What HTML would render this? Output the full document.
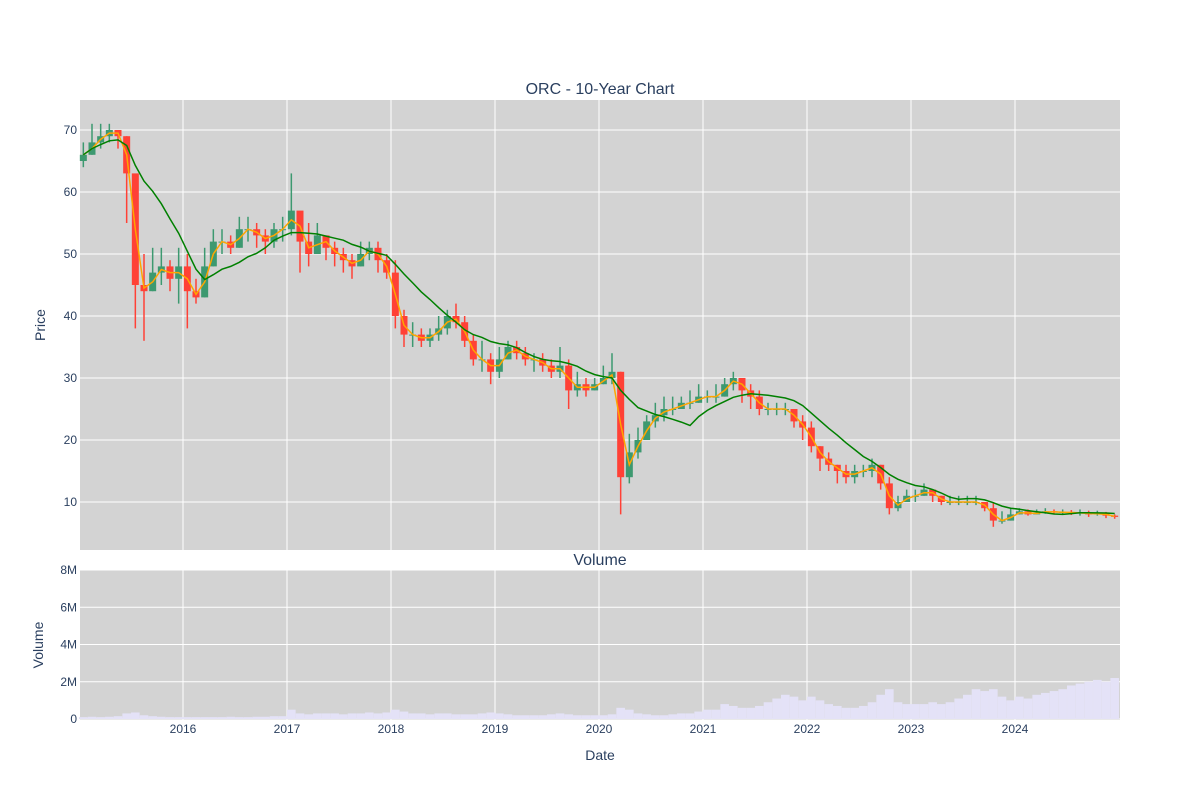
<!DOCTYPE html>
<html><head><meta charset="utf-8"><style>
body{margin:0;background:#fff;font-family:"Liberation Sans",sans-serif}
svg text{font-family:"Liberation Sans",sans-serif;fill:#2a3f5f}
</style></head><body>
<svg id="chart" width="1200" height="800" viewBox="0 0 1200 800" xmlns="http://www.w3.org/2000/svg">
<rect x="0" y="0" width="1200" height="800" fill="#fff"/>
<rect x="80" y="100" width="1040" height="450" fill="#d3d3d3"/>
<rect x="80" y="570" width="1040" height="150" fill="#d3d3d3"/>
<g id="grid"></g><g id="vol"></g><g id="candles"></g><g id="lines"></g><g id="axes"></g>
<text x="600" y="94" text-anchor="middle" font-size="16">ORC - 10-Year Chart</text>
<text x="600" y="565" text-anchor="middle" font-size="16">Volume</text>
<text transform="translate(45,325) rotate(-90)" text-anchor="middle" font-size="14">Price</text>
<text transform="translate(43,645) rotate(-90)" text-anchor="middle" font-size="14">Volume</text>
<text x="600" y="760" text-anchor="middle" font-size="14">Date</text>
</svg>
<script>
const closes=[66,68,69,70,69,63,45,44,47,48,46,48,
44,43,48,52,52,51,54,54,53,52,54,54,
57,52,50,53,51,50,49,48,50,51,49,47,
40,37,37,36,37,38,40,39,36,33,33,31,
33,35,34,33,33,32,31,32,28,29,28,29,
30,31,14,18,20,23,24,25,25,26,26,27,
27,27,29,30,28,27,25,25,25,25,23,22,
19,17,16,15,14,15,15,16,13,9,10,11,
11,12,11,10,10,10,10,10,9,7,7,8,
8.5,8,8.3,8.5,8.3,8.4,8.2,8.3,8,8.2,7.8,7.6];
const highs=[68,71,71,71,70,69,58,50,51,51,49,51,
50,46,51,54,54,53,56,56,55,54,55,56,
63,56,55,55,53,52,51,50,52,52,52,50,
49,41,39,38,38,40,41,42,40,37,36,34,
35,36,36,35,34,34,33,35,33,31,30,30,
32,34,31,21,22,24,26,27,27,27,28,29,
28,29,30,31,30,29,28,26,26,26,25,24,
23,19,18,16,16,16,16,17,16,14,11,12,
12,13,12,11,11,11,11,11,10,10,8.5,9,
9,8.8,8.8,9,8.8,8.8,8.7,8.8,8.6,8.6,8.4,8];
const lows=[64,66,67,68,67,55,38,36,44,45,44,42,
38,42,43,48,50,50,51,52,51,50,51,52,
53,47,48,51,49,48,47,46,48,49,47,46,
38,35,35,35,35,36,37,38,35,32,31,29,
30,33,33,32,31,31,30,30,25,27,27,28,
29,29,8,13,17,20,22,23,24,25,25,26,
26,26,27,28,26,25,24,24,24,24,22,20,
18,15,15,13,13,13,14,14,12,8,8.5,10,
10,11,10,9.5,9.5,9.5,9.5,9.5,8.5,6,6.5,7,
8,7.8,8,8.1,8,8,7.9,7.8,7.6,7.8,7.4,7.3];
const volumes=[0.1,0.12,0.1,0.12,0.15,0.3,0.35,0.2,0.15,0.12,0.1,0.1,
0.1,0.1,0.1,0.1,0.1,0.12,0.1,0.1,0.12,0.12,0.15,0.15,
0.5,0.3,0.25,0.3,0.3,0.3,0.25,0.3,0.3,0.35,0.3,0.35,
0.5,0.4,0.3,0.3,0.25,0.3,0.3,0.25,0.25,0.25,0.3,0.35,
0.3,0.25,0.2,0.2,0.2,0.2,0.25,0.3,0.25,0.2,0.2,0.2,
0.2,0.25,0.6,0.5,0.3,0.25,0.2,0.2,0.25,0.3,0.3,0.4,
0.5,0.5,0.8,0.7,0.6,0.6,0.7,0.9,1.1,1.3,1.2,1.0,
1.2,1.0,0.8,0.7,0.6,0.6,0.7,0.9,1.3,1.6,0.9,0.8,
0.8,0.8,0.9,0.8,0.9,1.1,1.3,1.6,1.5,1.6,1.2,1.0,
1.2,1.1,1.3,1.4,1.5,1.6,1.8,1.9,2.0,2.1,2.0,2.2];
const yearTicks=[2016,2017,2018,2019,2020,2021,2022,2023,2024];
const priceTicks=[10,20,30,40,50,60,70];
const volTicks=[0,2,4,6,8];
const volTickLabels=["0","2M","4M","6M","8M"];

const NS="http://www.w3.org/2000/svg";
const xT=t=>183+(t-2016)*104;
const xM=i=>xT(2015+(i+0.5)/12);
const yP=v=>502-(v-10)*6.2;
const yV=v=>719-v*18.625;
function mk(tag,attrs,parent){const e=document.createElementNS(NS,tag);for(const k in attrs)e.setAttribute(k,attrs[k]);document.getElementById(parent).appendChild(e);return e;}

yearTicks.forEach(y=>{
  const a=mk('line',{x1:xT(y),x2:xT(y),y1:100,y2:550,stroke:'#fff','stroke-width':1},'grid');
  
  
  const b=mk('line',{x1:xT(y),x2:xT(y),y1:570,y2:720,stroke:'#fff','stroke-width':1},'grid');
  
  
  const t=mk('text',{x:xT(y),y:733,'text-anchor':'middle','font-size':12},'axes');
  
  
  t.textContent=y;
});
priceTicks.forEach(v=>{
  const a=mk('line',{x1:80,x2:1120,y1:yP(v),y2:yP(v),stroke:'#fff','stroke-width':1},'grid');
  
  
  const t=mk('text',{x:77,y:yP(v)+4,'text-anchor':'end','font-size':12},'axes');
  
  
  t.textContent=v;
});
volTicks.forEach((v,i)=>{
  const a=mk('line',{x1:80,x2:1120,y1:yV(v),y2:yV(v),stroke:'#fff','stroke-width':1},'grid');
  
  
  const t=mk('text',{x:77,y:yV(v)+4,'text-anchor':'end','font-size':12},'axes');
  
  
  t.textContent=volTickLabels[i];
});
volumes.forEach((v,i)=>{
  const r=mk('rect',{x:xM(i)-4.3,y:yV(v),width:8.6,height:yV(0)-yV(v),fill:'#e4e2f7'},'vol');
  
  
});
closes.forEach((c,i)=>{
  const o=i?closes[i-1]:c-1;
  const col=c>=o?'#3d9970':'#ff4136';
  const x=xM(i);
  const w=mk('line',{x1:x,x2:x,y1:yP(highs[i]),y2:yP(lows[i]),stroke:col,'stroke-width':1.5},'candles');
  
  
  const b=mk('rect',{x:x-3.5,y:yP(Math.max(o,c)),width:7,height:Math.max(1,Math.abs(yP(o)-yP(c))),fill:col},'candles');
  
  
});
function ma(n){return closes.map((c,i)=>{const s=closes.slice(Math.max(0,i-n+1),i+1);return s.reduce((a,b)=>a+b,0)/s.length;});}
const maShort=ma(2), maLong=ma(9);
[[maShort,'#ffa500','ma-short-line'],[maLong,'#008000','ma-long-line']].forEach(([arr,col,nm])=>{
  const p=mk('path',{d:arr.map((v,i)=>(i?'L':'M')+xM(i).toFixed(1)+','+yP(v).toFixed(1)).join(''),fill:'none',stroke:col,'stroke-width':1.5},'lines');
  
  
});
</script>
</body></html>
